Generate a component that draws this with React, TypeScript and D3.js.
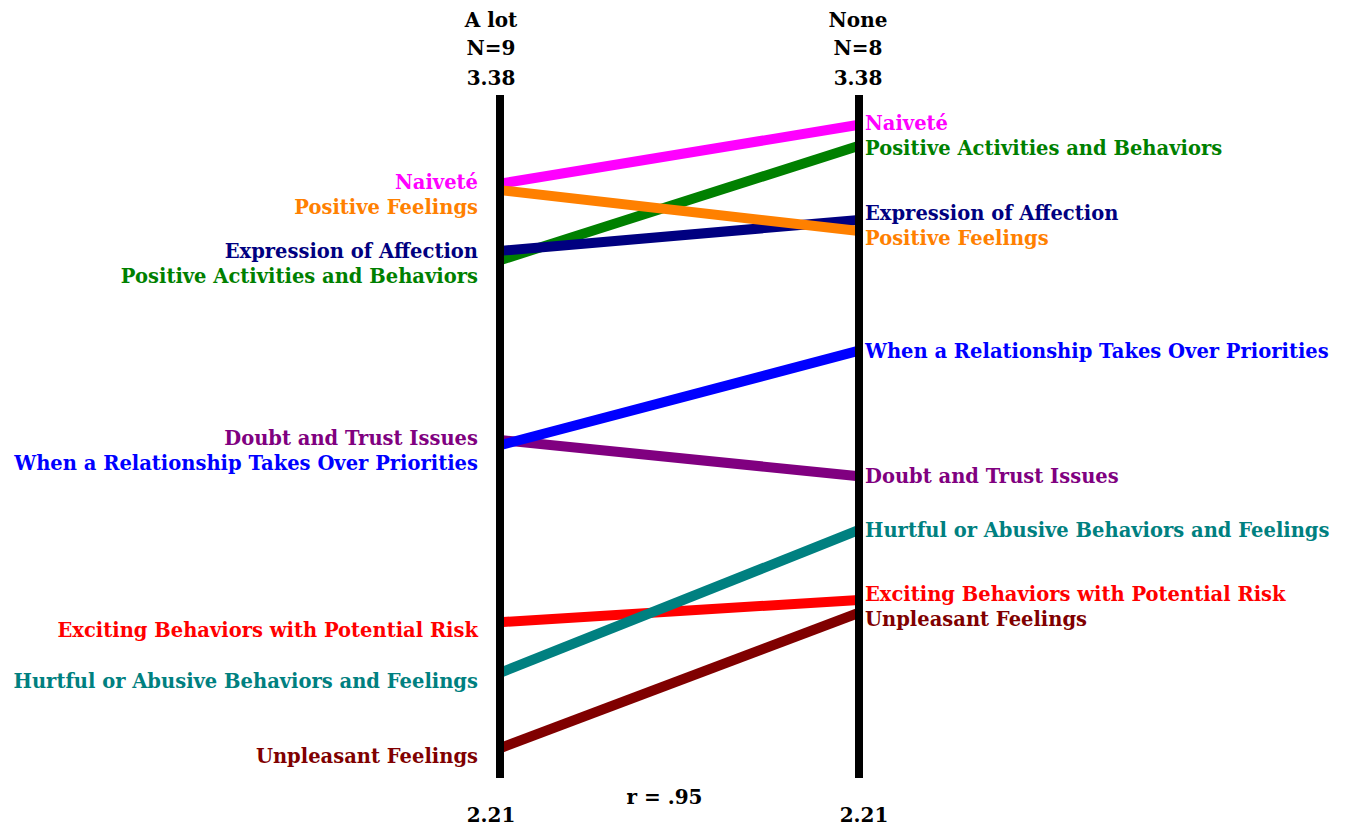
import { useEffect, useRef } from "react";
import * as d3 from "d3";

const W = 1345;
const H = 827;

// Categories, in draw order
const CATEGORIES = [
  "Positive Activities and Behaviors",
  "Expression of Affection",
  "Naiveté",
  "Positive Feelings",
  "Doubt and Trust Issues",
  "When a Relationship Takes Over Priorities",
  "Exciting Behaviors with Potential Risk",
  "Hurtful or Abusive Behaviors and Feelings",
  "Unpleasant Feelings",
];
const COLORS = [
  "#008000", "#000080", "#ff00ff", "#ff8000", "#800080",
  "#0000ff", "#ff0000", "#008080", "#800000",
];
// Group means
const A_LOT = [3.097, 3.113, 3.228, 3.217, 2.789, 2.780, 2.477, 2.390, 2.261];
const NONE = [3.293, 3.166, 3.329, 3.147, 2.727, 2.942, 2.515, 2.635, 2.493];

const GROUPS = ["A lot", "None"];
const GROUP_N = ["N=9", "N=8"];
const DOMAIN = [2.21, 3.38];
const R_LABEL = "r = .95";

const FONT = "'DejaVu Serif', serif";
const LABEL_GAP = 25;

// push labels apart so they don't collide, keeping clusters centred on their values
function spread(ys: number[]): number[] {
  const idx = ys.map((_, i) => i).sort((a, b) => ys[a] - ys[b]);
  const out = ys.slice();
  for (let iter = 0; iter < 50; iter++) {
    let moved = false;
    for (let k = 1; k < idx.length; k++) {
      const a = idx[k - 1], b = idx[k];
      const d = out[b] - out[a];
      if (d < LABEL_GAP) {
        const push = (LABEL_GAP - d) / 2;
        out[a] -= push;
        out[b] += push;
        moved = true;
      }
    }
    if (!moved) break;
  }
  return out;
}

export default function App() {
  const svgRef = useRef<SVGSVGElement>(null);

  useEffect(() => {
    const svg = d3.select(svgRef.current);
    svg.selectAll("*").remove();

    const xL = 500, xR = 859;
    const y = d3.scaleLinear().domain(DOMAIN).range([778, 95]);

    const g = svg.append("g");

    // connecting lines
    CATEGORIES.forEach((c, i) => {
      g.append("line")
        .attr("x1", xL).attr("x2", xR)
        .attr("y1", y(A_LOT[i])).attr("y2", y(NONE[i]))
        .attr("stroke", COLORS[i])
        .attr("stroke-width", 10);
    });

    // axes
    [xL, xR].forEach(x => {
      g.append("line")
        .attr("x1", x).attr("x2", x)
        .attr("y1", y(DOMAIN[1])).attr("y2", y(DOMAIN[0]))
        .attr("stroke", "#000")
        .attr("stroke-width", 8);
    });

    const txt = (x: number, yy: number, s: string, fill: string, anchor: string, size = 19.5) =>
      g.append("text")
        .attr("x", x).attr("y", yy)
        .attr("dy", "0.35em")
        .attr("text-anchor", anchor)
        .attr("font-family", FONT)
        .attr("font-weight", "bold")
        .attr("font-size", size)
        .attr("fill", fill)
        .text(s);

    // category labels
    const leftY = spread(A_LOT.map(v => y(v) + 8));
    const rightY = spread(NONE.map(v => y(v)));
    CATEGORIES.forEach((c, i) => {
      txt(xL - 22, leftY[i], c, COLORS[i], "end");
      txt(xR + 6, rightY[i], c, COLORS[i], "start");
    });

    // headers
    [xL - 9, xR - 1].forEach((x, k) => {
      txt(x, 20, GROUPS[k], "#000", "middle", 20);
      txt(x, 48, GROUP_N[k], "#000", "middle", 20);
      txt(x, 78, d3.format(".2f")(DOMAIN[1]), "#000", "middle", 20);
      txt(x + (k ? 6 : 0), 815, d3.format(".2f")(DOMAIN[0]), "#000", "middle", 20);
    });

    txt((xL + xR) / 2 - 15, 797, R_LABEL, "#000", "middle", 20);
  }, []);

  return (
    <svg
      ref={svgRef}
      width={W}
      height={H}
      style={{ position: "absolute", left: 0, top: 0, background: "#fff" }}
    />
  );
}
